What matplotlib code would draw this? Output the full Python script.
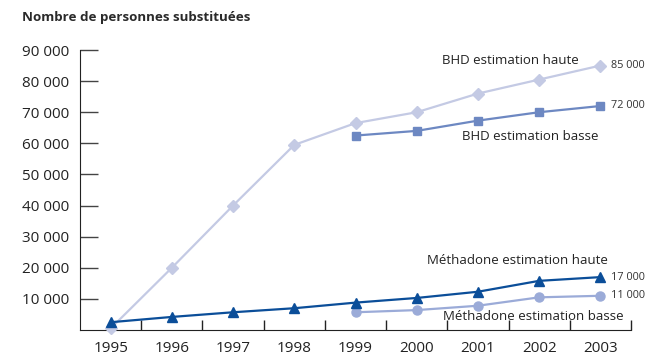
import matplotlib.pyplot as plt
import numpy as np

plt.rcParams['font.family'] = ['Open Sans', 'DejaVu Sans']

years = ['1995', '1996', '1997', '1998', '1999', '2000', '2001', '2002', '2003']

# BHD estimates (1995-2003 for the high one, 1999-2003 for the low one)
bhd_haute = [500, 20000, 40000, 59500, 66500, 70000, 76000, 80500, 85000]
bhd_basse = [62500, 64000, 67300, 70000, 72000]

# Methadone estimates
metha_haute = [2500, 4200, 5700, 7000, 8800, 10300, 12300, 15800, 17000]
metha_basse = [5700, 6400, 7800, 10500, 11000]

x_all = np.arange(len(years))
x_late = x_all[4:]

fig = plt.figure(figsize=(6.51, 3.57), dpi=100)
ax = fig.add_axes([80 / 651, 27 / 357, 551 / 651, 280 / 357])

ax.plot(x_all, bhd_haute, color='#c4cae4', lw=1.6, marker='D', ms=6, clip_on=False, zorder=3)
ax.plot(x_late, bhd_basse, color='#6d88c2', lw=1.6, marker='s', ms=5.5, clip_on=False, zorder=3)
ax.plot(x_all, metha_haute, color='#0b4e99', lw=1.6, marker='^', ms=7.5, clip_on=False, zorder=4)
ax.plot(x_late, metha_basse, color='#9babd8', lw=1.6, marker='o', ms=6.5, clip_on=False, zorder=3)

# series names
txt = dict(fontsize=9.5, color='#222222', ha='center', va='center')
ax.text(6.53, 86600, 'BHD estimation haute', **txt)
ax.text(6.85, 62100, 'BHD estimation basse', **txt)
ax.text(6.64, 22300, 'Méthadone estimation haute', **txt)
ax.text(6.90, 4500, 'Méthadone estimation basse', **txt)

# end values
for v in [bhd_haute[-1], bhd_basse[-1], metha_haute[-1], metha_basse[-1]]:
    ax.text(8.18, v, f'{v:,}'.replace(',', ' '), fontsize=7.8, color='#333333', ha='left', va='center')

ax.set_xlim(-0.5, 8.5)
ax.set_ylim(0, 90000)
ax.set_xticks(x_all)
ax.set_xticklabels(years)
ax.set_xticks(np.arange(-0.5, 9, 1)[1:], minor=True)
ax.set_yticks(range(10000, 90001, 10000))
ax.set_yticklabels([f'{v:,}'.replace(',', ' ') for v in range(10000, 90001, 10000)])

ax.tick_params(axis='x', which='major', length=0, labelsize=11, pad=8, labelcolor='#222222')
ax.tick_params(axis='x', which='minor', direction='in', length=7, width=1, color='#222222')
ax.tick_params(axis='y', direction='in', length=13, width=1, labelsize=11, pad=8, labelcolor='#222222', color='#444444')

for s in ['top', 'right']:
    ax.spines[s].set_visible(False)
ax.spines['left'].set_color('#222222')
ax.spines['bottom'].set_color('#222222')

fig.text(22 / 651, 1 - 18 / 357, 'Nombre de personnes substituées', fontsize=9.6, fontweight='bold',
         color='#2a2a2a', ha='left', va='center')

fig.savefig('out.png', dpi=100)
